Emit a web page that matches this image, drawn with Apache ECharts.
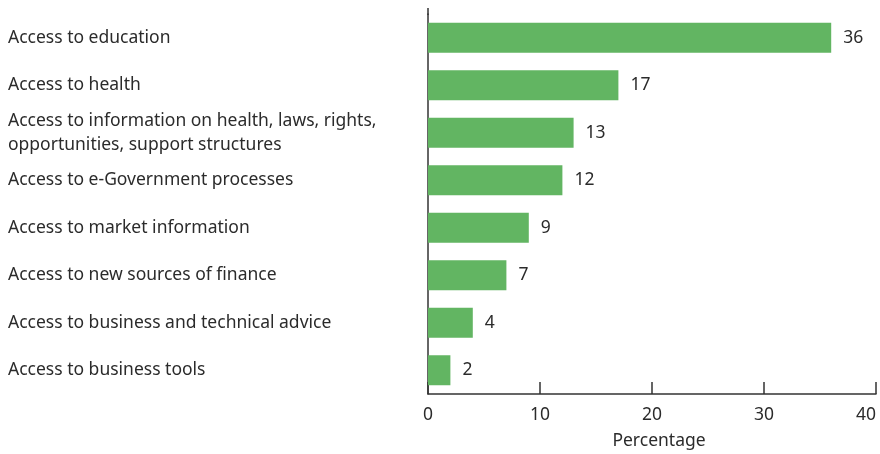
<!DOCTYPE html>
<html>
<head>
<meta charset="utf-8">
<script src="https://cdn.jsdelivr.net/npm/echarts@6/dist/echarts.min.js"></script>
<style>
  html, body { margin: 0; padding: 0; background: #fff; overflow: hidden; }
  #chart { width: 880px; height: 454px; }
</style>
</head>
<body>
<div id="chart"></div>
<script>
// Categories listed bottom-to-top (category axis starts at the bottom)
const categories = [
  'Access to business tools',
  'Access to business and technical advice',
  'Access to new sources of finance',
  'Access to market information',
  'Access to e-Government processes',
  'Access to information on health, laws, rights,\nopportunities, support structures',
  'Access to health',
  'Access to education'
];
const values = [2, 4, 7, 9, 12, 13, 17, 36];
const xTicks = [0, 10, 20, 30, 40];

const FONT = '"Noto Sans", sans-serif';
const TEXT = '#2b2b2b';

const chart = echarts.init(document.getElementById('chart'), null, { renderer: 'canvas' });
chart.setOption({
  animation: false,
  grid: {
    left: 428, right: 4, top: 14, bottom: 60,
    containLabel: false, outerBoundsMode: 'none'
  },
  xAxis: {
    type: 'value',
    min: xTicks[0],
    max: xTicks[xTicks.length - 1],
    interval: 10,
    name: 'Percentage',
    nameLocation: 'middle',
    nameGap: 38,
    nameTextStyle: { fontFamily: FONT, fontSize: 17.5, color: TEXT, padding: [0, 0, 0, 14] },
    axisLine: { show: true, lineStyle: { color: '#333', width: 1.5 } },
    axisTick: { show: true, inside: true, length: 12, lineStyle: { color: '#333', width: 1.5 } },
    axisLabel: {
      fontFamily: FONT, fontSize: 17.5, color: TEXT, margin: 12,
      alignMaxLabel: 'right'
    },
    splitLine: { show: false }
  },
  yAxis: {
    type: 'category',
    data: categories,
    axisLine: { show: true, onZero: false, lineStyle: { color: '#333', width: 1.5 } },
    axisTick: { show: false },
    axisLabel: {
      fontFamily: FONT, fontSize: 17.5, color: TEXT,
      align: 'left', margin: 420, lineHeight: 24
    }
  },
  series: [{
    type: 'bar',
    data: values,
    barWidth: 30,
    itemStyle: { color: '#62b562' },
    label: {
      show: true, position: 'right', distance: 12,
      fontFamily: FONT, fontSize: 17.5, color: TEXT
    }
  }],
  graphic: [{
    type: 'line',
    shape: { x1: 428, y1: 8, x2: 428, y2: 15 },
    style: { stroke: '#333', lineWidth: 1.5 }
  }]
});
</script>
</body>
</html>
